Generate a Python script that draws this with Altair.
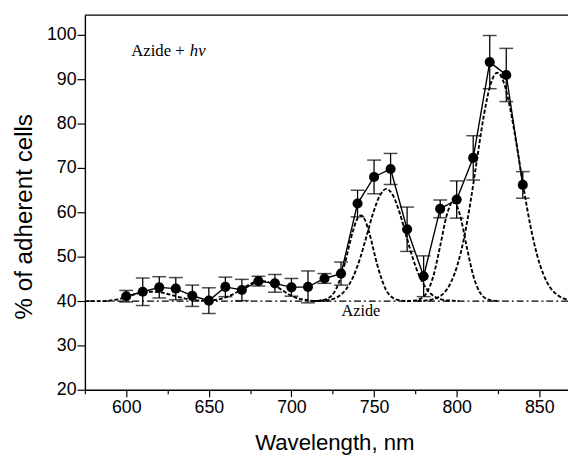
import altair as alt
import pandas as pd

# measured points
wavelength = [600, 610, 620, 630, 640, 650, 660, 670, 680, 690, 700, 710, 720,
              730, 740, 750, 760, 770, 780, 790, 800, 810, 820, 830, 840]
adherent = [41.1, 42.1, 43.1, 42.8, 41.2, 40.1, 43.2, 42.5, 44.5, 44.0, 43.1, 43.2, 45.1,
            46.2, 62.0, 68.0, 69.8, 56.2, 45.6, 60.8, 62.9, 72.3, 93.9, 91.0, 66.2]
error = [1.3, 3.1, 2.4, 2.5, 2.4, 2.9, 2.2, 2.4, 1.1, 2.0, 2.0, 3.6, 1.1,
         2.6, 3.0, 3.8, 3.5, 5.0, 4.6, 2.0, 4.2, 5.0, 6.0, 6.0, 3.0]

# dashed fit curves
low_x = [575, 585, 590, 595, 600, 605, 610, 615, 620, 625, 630, 635, 640, 645, 650, 655,
         660, 665, 670, 675, 680, 685, 690, 695, 700, 705, 710, 715, 720]
low_y = [40.0, 40.0, 40.1, 40.4, 40.9, 41.5, 41.9, 42.1, 42.0, 41.6, 41.1, 40.6, 40.3, 40.1,
         40.1, 40.3, 40.8, 41.6, 42.7, 43.8, 44.5, 44.4, 43.5, 42.3, 41.2, 40.5, 40.2, 40.0, 40.0]
pa_x = [712, 717, 722, 727, 732, 737, 739.5, 742, 744.5, 747, 752, 757, 762, 767, 772]
pa_y = [40.0, 40.1, 40.6, 42.7, 48.1, 55.5, 58.3, 59.3, 58.3, 55.5, 48.1, 42.7, 40.6, 40.1, 40.0]
pb_x = [713.5, 717.5, 721.5, 725.5, 729.5, 733.5, 737.5, 741.5, 745.5, 749.5, 753.5, 757.5,
        761.5, 765.5, 769.5, 773.5, 777.5, 781.5, 785.5, 789.5, 793.5, 797.5, 801.5]
pb_y = [40.0, 40.1, 40.2, 40.5, 41.3, 42.9, 45.6, 49.6, 54.7, 59.9, 63.8, 65.3,
        63.8, 59.9, 54.7, 49.6, 45.6, 42.9, 41.3, 40.5, 40.2, 40.1, 40.0]
pc_x = [770, 774, 778, 782, 786, 790, 794, 798, 802, 806, 810, 814, 818, 822, 826]
pc_y = [40.0, 40.1, 40.5, 42.0, 45.8, 52.4, 59.4, 62.5, 59.4, 52.4, 45.8, 42.0, 40.5, 40.1, 40.0]
pd_x = [776.5, 780.5, 784.5, 788.5, 792.5, 796.5, 800.5, 804.5, 808.5, 812.5, 816.5, 820.5,
        824.5, 828.5, 832.5, 836.5, 840.5, 844.5, 848.5, 852.5, 856.5, 860.5, 864.5, 868.5, 872.5]
pd_y = [40.0, 40.1, 40.3, 40.8, 41.9, 44.2, 48.2, 54.3, 62.7, 72.5, 82.0, 88.9,
        91.5, 89.3, 83.2, 74.7, 65.5, 57.2, 50.6, 46.0, 43.1, 41.5, 40.6, 40.3, 40.1]
baseline = [40]

x_ticks = [575, 600, 625, 650, 675, 700, 725, 750, 775, 800, 825, 850]
y_ticks = [20, 25, 30, 35, 40, 45, 50, 55, 60, 65, 70, 75, 80, 85, 90, 95, 100]

pts = pd.DataFrame({"wl": wavelength, "v": adherent, "e": error})
pts["lo"] = pts["v"] - pts["e"]
pts["hi"] = pts["v"] + pts["e"]

curves = []
for name, xs, ys in [("low", low_x, low_y), ("A", pa_x, pa_y), ("B", pb_x, pb_y),
                     ("C", pc_x, pc_y), ("D", pd_x, pd_y)]:
    for a, b in zip(xs, ys):
        curves.append({"curve": name, "wl": a, "v": b})
curves = pd.DataFrame(curves)

W = 490
H = 380
xscale = alt.Scale(domain=[575, 575 + W / 1.676], nice=False, zero=False)
yscale = alt.Scale(domain=[20, 104.5], nice=False, zero=False)

xaxis = alt.Axis(values=x_ticks, title="Wavelength, nm",
                 labelExpr="datum.value % 50 === 0 ? datum.label : ''",
                 tickSize={"condition": {"test": "datum.value % 50 === 0", "value": 7}, "value": 4},
                 labelOverlap=False, grid=False, labelPadding=2, titlePadding=16,
                 titleX=253, titleFontSize=22.5)
yaxis = alt.Axis(values=y_ticks, title="% of adherent cells",
                 labelExpr="datum.value % 10 === 0 ? datum.label : ''",
                 tickSize={"condition": {"test": "datum.value % 10 === 0", "value": 8}, "value": 4},
                 labelOverlap=False, grid=False, labelPadding=1, titlePadding=10,
                 titleY=204, titleFontSize=24.5)

X = alt.X("wl:Q", scale=xscale, axis=xaxis)
Y = alt.Y("v:Q", scale=yscale, axis=yaxis)

base_line = alt.Chart(pd.DataFrame({"b": baseline})).mark_rule(
    color="black", strokeWidth=1.3, strokeDash=[7, 3, 2, 3]
).encode(y=alt.Y("b:Q", scale=yscale))

fits = alt.Chart(curves).mark_line(
    color="black", strokeWidth=1.9, strokeDash=[4, 2], interpolate="monotone", clip=True
).encode(x=X, y=Y, detail="curve:N")

line = alt.Chart(pts).mark_line(color="black", strokeWidth=1.4).encode(x=X, y=Y)

bars = alt.Chart(pts).mark_rule(color="black", strokeWidth=1.3).encode(
    x=X, y=alt.Y("lo:Q", scale=yscale), y2="hi:Q")
cap_hi = alt.Chart(pts).mark_tick(color="black", orient="horizontal", size=14, thickness=1.5).encode(
    x=X, y=alt.Y("hi:Q", scale=yscale))
cap_lo = alt.Chart(pts).mark_tick(color="black", orient="horizontal", size=14, thickness=1.5).encode(
    x=X, y=alt.Y("lo:Q", scale=yscale))

dots = alt.Chart(pts).mark_point(filled=True, color="black", size=105, opacity=1).encode(x=X, y=Y)

top = alt.Chart(pd.DataFrame({"b": baseline})).mark_rule(color="black", strokeWidth=1.4).encode(
    y=alt.value(0), x=alt.value(0), x2=alt.value(W))

lbl_font = "Liberation Serif"
t1 = alt.Chart(pd.DataFrame({"wl": [603], "v": [96.5], "t": ["Azide + "]})).mark_text(
    font=lbl_font, fontSize=17, align="left", baseline="middle", color="black"
).encode(x=X, y=Y, text="t:N")
t2 = alt.Chart(pd.DataFrame({"wl": [638.5], "v": [96.5], "t": ["hν"]})).mark_text(
    font=lbl_font, fontSize=17, fontStyle="italic", align="left", baseline="middle", color="black"
).encode(x=X, y=Y, text="t:N")
t3 = alt.Chart(pd.DataFrame({"wl": [742], "v": [37.8], "t": ["Azide"]})).mark_text(
    font=lbl_font, fontSize=16.5, align="center", baseline="middle", color="black"
).encode(x=X, y=Y, text="t:N")

chart = alt.layer(base_line, fits, line, bars, cap_hi, cap_lo, dots, top, t1, t2, t3).properties(
    width=W, height=H,
    autosize=alt.AutoSizeParams(type="none"),
    padding={"left": 78, "top": 4, "right": 0, "bottom": 66},
).configure_view(stroke=None).configure_axis(
    labelFont="Liberation Sans", titleFont="Liberation Sans", labelFontSize=18,
    titleFontWeight="normal", labelColor="black", titleColor="black",
    domainColor="black", tickColor="black", domainWidth=1.4, tickWidth=1.2
)

chart.save("out.html", embed_options={"renderer": "svg", "actions": False})
